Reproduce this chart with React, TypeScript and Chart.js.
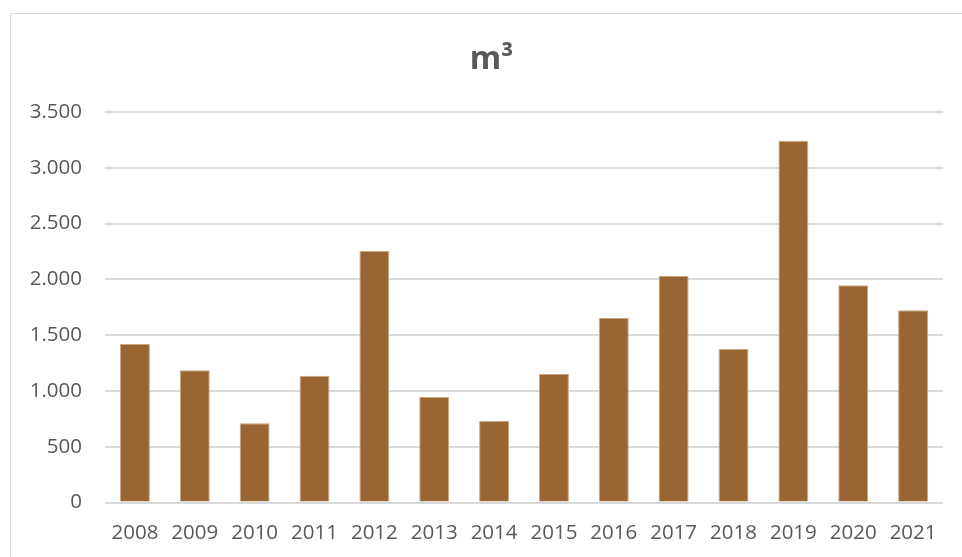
import React, { useEffect, useRef } from "react";
import { Chart, registerables } from "chart.js";

Chart.register(...registerables);

const categories = ["2008", "2009", "2010", "2011", "2012", "2013", "2014", "2015", "2016", "2017", "2018", "2019", "2020", "2021"];
const volumes = [1420, 1185, 710, 1135, 2255, 946, 730, 1152, 1654, 2030, 1376, 3243, 1947, 1723];
const titleText = "m³";
const yMin = 0;
const yMax = 3500;
const yStep = 500;

function formatThousands(v: number): string {
  const s = Math.round(v).toString();
  return s.replace(/\B(?=(\d{3})+(?!\d))/g, ".");
}

const centerTitlePlugin = {
  id: "centerTitleOnCanvas",
  afterLayout(chart: any) {
    const tb = chart.titleBlock;
    if (tb) {
      tb.left = 0;
      tb.right = chart.width;
      tb.width = chart.width;
    }
  },
};

export default function App() {
  const canvasRef = useRef<HTMLCanvasElement | null>(null);

  useEffect(() => {
    if (!canvasRef.current) return;
    const chart = new Chart(canvasRef.current, {
      type: "bar",
      data: {
        labels: categories,
        datasets: [
          {
            data: volumes,
            backgroundColor: "#996633",
            borderColor: "#c9a57f",
            borderWidth: 1,
            barPercentage: 0.5,
            categoryPercentage: 1.0,
          },
        ],
      },
      plugins: [centerTitlePlugin],
      options: {
        animation: false,
        responsive: false,
        maintainAspectRatio: false,
        layout: { padding: { left: 0, right: 29, top: 0, bottom: 0 } },
        plugins: {
          legend: { display: false },
          tooltip: { enabled: false },
          title: {
            display: true,
            text: titleText,
            color: "#595959",
            font: { family: "'Open Sans', sans-serif", size: 32, weight: "bold", lineHeight: 1.2 },
            padding: { top: 27, bottom: 32.6 },
          },
        },
        scales: {
          x: {
            afterFit: (scale: any) => {
              scale.height = 54.5;
            },
            grid: { display: false, drawTicks: false },
            border: { display: false },
            ticks: {
              color: "#595959",
              font: { family: "'Open Sans', sans-serif", size: 20.5 },
              padding: 18,
              maxRotation: 0,
              autoSkip: false,
            },
          },
          y: {
            min: yMin,
            max: yMax,
            afterFit: (scale: any) => {
              scale.width = 94;
            },
            grid: { color: "#d9d9d9", lineWidth: 2, drawTicks: false },
            border: { display: false },
            ticks: {
              stepSize: yStep,
              color: "#595959",
              font: { family: "'Open Sans', sans-serif", size: 20.5 },
              padding: 23,
              callback: (v: any) => formatThousands(Number(v)),
            },
          },
        },
      },
    });
    return () => chart.destroy();
  }, []);

  return (
    <div style={{ position: "absolute", left: 0, top: 0, width: 962, height: 557, overflow: "hidden", background: "#ffffff" }}>
      <div
        style={{
          position: "absolute",
          left: 10,
          top: 13,
          width: 980,
          height: 580,
          border: "1px solid #d9d9d9",
          boxSizing: "border-box",
        }}
      />
      <canvas
        ref={canvasRef}
        width={961}
        height={543}
        style={{ position: "absolute", left: 11, top: 14, width: 961, height: 543 }}
      />
    </div>
  );
}
